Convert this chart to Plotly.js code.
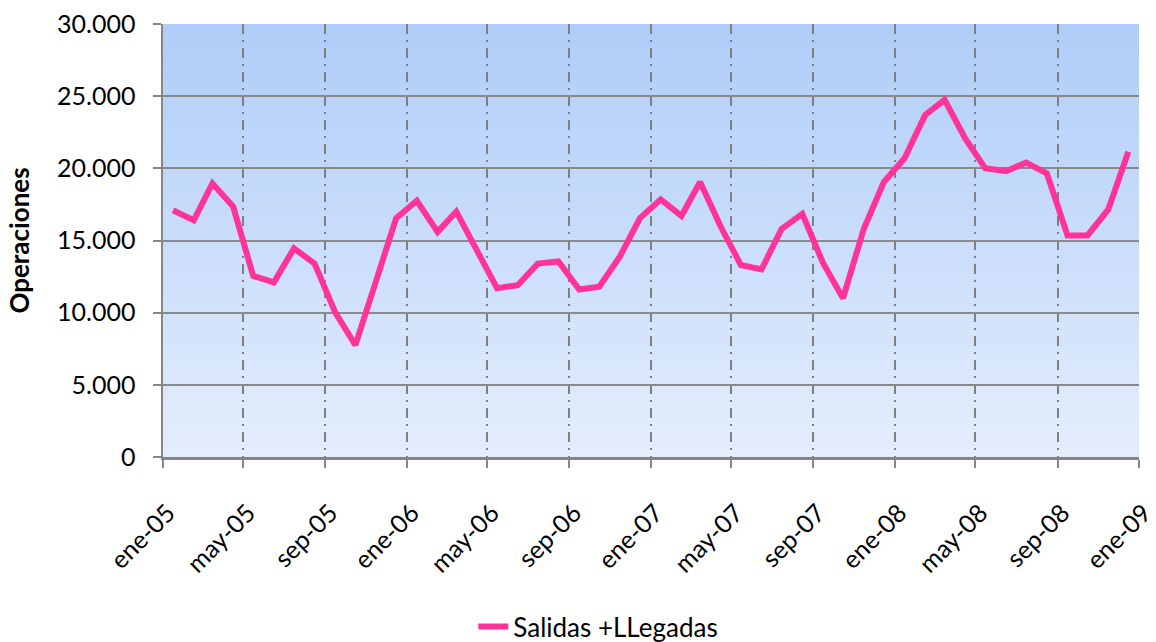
<!DOCTYPE html>
<html>
<head>
<meta charset="utf-8">
<script src="https://cdn.plot.ly/plotly-3.0.1.min.js"></script>
<style>
  html, body { margin: 0; padding: 0; background: #ffffff; }
  #wrap { position: relative; width: 1156px; height: 642px; }
  #bg { position: absolute; left: 163px; top: 24px; width: 976px; height: 433px;
        background: linear-gradient(to bottom, #afcdf8 0%, #e4edfc 100%); }
  #chart { position: absolute; left: 0; top: 0; width: 1156px; height: 642px; }
</style>
</head>
<body>
<div id="wrap">
  <div id="bg"></div>
  <div id="chart"></div>
</div>
<script>
const months = [
  '2005-01','2005-02','2005-03','2005-04','2005-05','2005-06','2005-07','2005-08','2005-09','2005-10','2005-11','2005-12',
  '2006-01','2006-02','2006-03','2006-04','2006-05','2006-06','2006-07','2006-08','2006-09','2006-10','2006-11','2006-12',
  '2007-01','2007-02','2007-03','2007-04','2007-05','2007-06','2007-07','2007-08','2007-09','2007-10','2007-11','2007-12',
  '2008-01','2008-02','2008-03','2008-04','2008-05','2008-06','2008-07','2008-08','2008-09','2008-10','2008-11','2008-12'
];
const salidasLlegadas = [
  17100,16400,18950,17350,12550,12100,14450,13400,10000,7750,12200,16550,
  17750,15600,17000,14250,11700,11900,13400,13550,11600,11800,13900,16550,
  17850,16700,19050,15950,13300,13000,15800,16850,13450,11000,15800,19050,
  20700,23700,24750,22050,20000,19800,20400,19650,15350,15350,17150,21150
];
const tickDates = ['2005-01-01','2005-05-01','2005-09-01','2006-01-01','2006-05-01','2006-09-01',
  '2007-01-01','2007-05-01','2007-09-01','2008-01-01','2008-05-01','2008-09-01','2009-01-01'];
const tickLabels = ['ene-05','may-05','sep-05','ene-06','may-06','sep-06',
  'ene-07','may-07','sep-07','ene-08','may-08','sep-08','ene-09'];
const seriesName = 'Salidas +LLegadas';

const xs = months.map(m => m + '-16');

const trace = {
  x: xs, y: salidasLlegadas, type: 'scatter', mode: 'lines', name: seriesName,
  line: { color: '#ff3399', width: 6 }
};

const font = 'Lato, "Open Sans", sans-serif';
const layout = {
  width: 1156, height: 642,
  margin: { l: 163, r: 17, t: 24, b: 185, autoexpand: false },
  paper_bgcolor: 'rgba(0,0,0,0)',
  plot_bgcolor: 'rgba(0,0,0,0)',
  separators: ',.',
  showlegend: true,
  legend: { orientation: 'h', x: 0.446, xanchor: 'center', yref: 'container', y: 0.024, yanchor: 'middle',
            font: { family: font, size: 26, color: '#000' } },
  xaxis: {
    type: 'date', range: ['2005-01-01', '2009-01-01'], automargin: false,
    tickmode: 'array', tickvals: tickDates, ticktext: tickLabels,
    tickangle: -45, tickfont: { family: font, size: 25, color: '#000' },
    ticklabelstandoff: 21, ticklabelshift: 5, ticklabeloverflow: 'allow',
    ticks: 'outside', ticklen: 8, tickcolor: '#868686', tickwidth: 2,
    showline: true, linecolor: '#868686', linewidth: 2.5,
    showgrid: true, gridcolor: '#808080', gridwidth: 2, griddash: '10px,6px,2px,6px',
    zeroline: false, fixedrange: true
  },
  yaxis: {
    range: [0, 30000], dtick: 5000, tickformat: ',d', automargin: false,
    tickfont: { family: font, size: 25, color: '#000' },
    ticklabelstandoff: 12,
    ticks: 'outside', ticklen: 8, tickcolor: '#868686', tickwidth: 2,
    showline: true, linecolor: '#868686', linewidth: 2.5,
    showgrid: true, gridcolor: '#8a8a8a', gridwidth: 2,
    zeroline: false, fixedrange: true,
    title: { text: '<b>Operaciones</b>', font: { family: font, size: 26, color: '#000' }, standoff: 20 }
  }
};

Plotly.newPlot('chart', [trace], layout, { displayModeBar: false, staticPlot: true });
</script>
</body>
</html>
